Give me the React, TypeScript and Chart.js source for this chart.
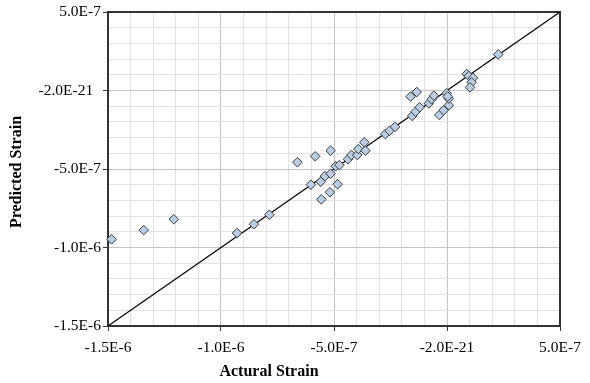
import { useEffect, useRef } from 'react';
import { Chart, registerables } from 'chart.js';

Chart.register(...registerables);

// Scatter data
const actualStrain = [
  -1.484e-6, -1.342e-6, -1.209e-6, -0.929e-6, -0.854e-6, -0.786e-6,
  -0.662e-6, -0.583e-6, -0.515e-6, -0.602e-6, -0.559e-6, -0.556e-6,
  -0.518e-6, -0.484e-6, -0.540e-6, -0.515e-6, -0.492e-6, -0.476e-6,
  -0.438e-6, -0.423e-6, -0.397e-6, -0.392e-6, -0.366e-6, -0.361e-6,
  -0.273e-6, -0.254e-6, -0.230e-6, -0.154e-6, -0.139e-6, -0.121e-6,
  -0.161e-6, -0.134e-6, -0.080e-6, -0.068e-6, -0.058e-6, -0.034e-6,
  -0.015e-6, 0.008e-6, -0.001e-6, 0.008e-6, 0.003e-6, 0.087e-6,
  0.096e-6, 0.115e-6, 0.109e-6, 0.102e-6, 0.227e-6,
];
const predictedStrain = [
  -0.948e-6, -0.889e-6, -0.820e-6, -0.908e-6, -0.852e-6, -0.791e-6,
  -0.457e-6, -0.419e-6, -0.383e-6, -0.600e-6, -0.581e-6, -0.693e-6,
  -0.648e-6, -0.597e-6, -0.545e-6, -0.530e-6, -0.482e-6, -0.475e-6,
  -0.438e-6, -0.411e-6, -0.411e-6, -0.373e-6, -0.330e-6, -0.383e-6,
  -0.277e-6, -0.256e-6, -0.232e-6, -0.162e-6, -0.135e-6, -0.107e-6,
  -0.039e-6, -0.010e-6, -0.082e-6, -0.056e-6, -0.033e-6, -0.156e-6,
  -0.126e-6, -0.094e-6, -0.018e-6, -0.052e-6, -0.038e-6, 0.105e-6,
  0.092e-6, 0.080e-6, 0.052e-6, 0.020e-6, 0.230e-6,
];

// 1:1 reference line
const lineX = [-1.5e-6, 5e-7];
const lineY = [-1.5e-6, 5e-7];

// Axes
const axisMin = -1.5e-6;
const axisMax = 5e-7;
const minorStep = 1e-7;
const majorEvery = 5;
const xTickLabels = ['-1.5E-6', '-1.0E-6', '-5.0E-7', '-2.0E-21', '5.0E-7'];
const yTickLabels = ['-1.5E-6', '-1.0E-6', '-5.0E-7', '-2.0E-21  ', '5.0E-7'];
const xTitle = 'Actural Strain';
const yTitle = 'Predicted Strain';

const FONT = "'Times New Roman', 'Liberation Serif', serif";

const gridValues: number[] = [];
for (let i = 0; i <= Math.round((axisMax - axisMin) / minorStep); i++) {
  gridValues.push(axisMin + i * minorStep);
}

const framePlugin = {
  id: 'frame',
  beforeDatasetsDraw(chart: any) {
    const { ctx, chartArea } = chart;
    ctx.save();
    ctx.strokeStyle = '#333333';
    ctx.lineWidth = 2;
    ctx.strokeRect(chartArea.left, chartArea.top, chartArea.right - chartArea.left, chartArea.bottom - chartArea.top);
    ctx.restore();
  },
  afterDraw(chart: any) {
    const { ctx, chartArea } = chart;
    ctx.save();
    ctx.fillStyle = '#000';
    ctx.font = `bold 16px ${FONT}`;
    ctx.textAlign = 'center';
    ctx.textBaseline = 'middle';
    ctx.fillText(xTitle, chartArea.left + 161, 372);
    ctx.translate(17, (chartArea.top + chartArea.bottom) / 2 + 3);
    ctx.rotate(-Math.PI / 2);
    ctx.fillText(yTitle, 0, 0);
    ctx.restore();
  },
};

function axis(labels: string[], isX: boolean) {
  return {
    type: 'linear' as const,
    min: axisMin,
    max: axisMax,
    afterBuildTicks: (scale: any) => {
      scale.ticks = gridValues.map((v) => ({ value: v }));
    },
    afterFit: (scale: any) => {
      if (isX) scale.height = 57;
      else scale.width = 108;
    },
    grid: {
      color: (c: any) => (c.index % majorEvery === 0 ? '#c4c4c4' : '#e2e2e2'),
      tickColor: (c: any) => (c.index % majorEvery === 0 ? '#3a3a3a' : 'rgba(0,0,0,0)'),
      lineWidth: 1,
      tickLength: 5,
      drawTicks: true,
    },
    border: { display: false },
    ticks: {
      autoSkip: false,
      maxRotation: 0,
      minRotation: 0,
      padding: isX ? 8 : 2,
      color: '#000',
      font: { family: FONT, size: 15.5 },
      callback: (_v: any, index: number) =>
        index % majorEvery === 0 ? labels[index / majorEvery] : '',
    },
  };
}

export default function App() {
  const ref = useRef<HTMLCanvasElement>(null);
  useEffect(() => {
    if (!ref.current) return;
    const chart = new Chart(ref.current, {
      type: 'scatter',
      data: {
        datasets: [
          {
            data: actualStrain.map((x, i) => ({ x, y: predictedStrain[i] })),
            pointStyle: 'rectRot',
            pointRadius: 4.8,
            pointBackgroundColor: '#b9cde5',
            pointBorderColor: '#3c3c3c',
            pointBorderWidth: 1,
            showLine: false,
            clip: false,
          } as any,
          {
            data: lineX.map((x, i) => ({ x, y: lineY[i] })),
            showLine: true,
            borderColor: '#000',
            borderWidth: 1.2,
            pointRadius: 0,
          } as any,
        ],
      },
      options: {
        animation: false,
        responsive: false,
        devicePixelRatio: 1,
        layout: { padding: { top: 12, right: 30, bottom: 0, left: 0 } },
        plugins: { legend: { display: false }, tooltip: { enabled: false } },
        scales: {
          x: axis(xTickLabels, true) as any,
          y: axis(yTickLabels, false) as any,
        },
      },
      plugins: [framePlugin],
    });
    return () => chart.destroy();
  }, []);
  return (
    <div style={{ position: 'absolute', left: 0, top: 0, width: 590, height: 383, background: '#fff' }}>
      <canvas ref={ref} width={590} height={383} />
    </div>
  );
}
